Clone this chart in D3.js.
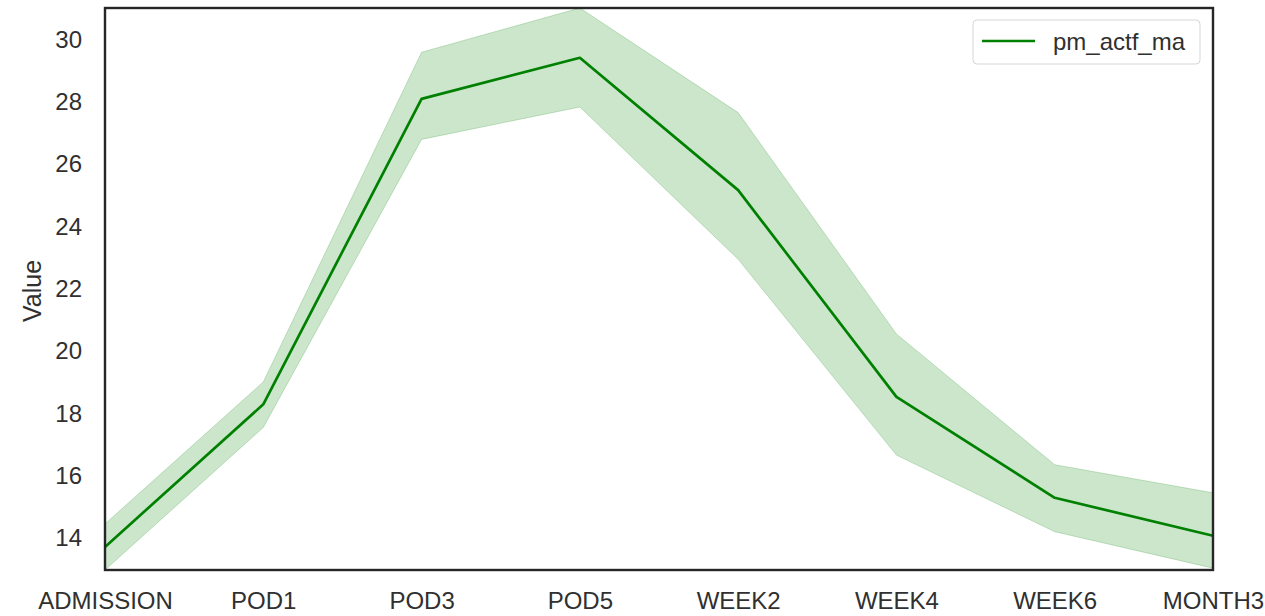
<!DOCTYPE html>
<html>
<head>
<meta charset="utf-8">
<script src="https://cdn.jsdelivr.net/npm/d3@7/dist/d3.min.js"></script>
<style>
  html, body { margin: 0; padding: 0; background: #ffffff; }
  svg { display: block; font-family: "Liberation Sans", Arial, sans-serif; }
</style>
</head>
<body>
<svg id="chart" width="1265" height="616"></svg>
<script>
// Time points along the recovery course
const categories = ["ADMISSION", "POD1", "POD3", "POD5", "WEEK2", "WEEK4", "WEEK6", "MONTH3"];
// Mean value of pm_actf_ma and its confidence band
const meanValues  = [13.71, 18.29, 28.10, 29.42, 25.17, 18.53, 15.29, 14.07];
const upperValues = [14.45, 19.01, 29.60, 31.02, 27.66, 20.55, 16.35, 15.45];
const lowerValues = [12.97, 17.55, 26.80, 27.84, 22.95, 16.66, 14.20, 13.03];
const yTicks = [14, 16, 18, 20, 22, 24, 26, 28, 30];
const seriesName = "pm_actf_ma";

const svg = d3.select("#chart");
const plot = { left: 105, top: 8, right: 1213, bottom: 570 };
const lineColor = "#008000";
const textColor = "#303030";

const x = d3.scalePoint().domain(categories).range([plot.left, plot.right]);
const y = d3.scaleLinear()
  .domain([d3.min(lowerValues), d3.max(upperValues)])
  .range([plot.bottom, plot.top]);

const rows = categories.map((c, i) => ({ c, mean: meanValues[i], lo: lowerValues[i], hi: upperValues[i] }));

// Confidence band
svg.append("path")
  .datum(rows)
  .attr("d", d3.area().x(d => x(d.c)).y0(d => y(d.lo)).y1(d => y(d.hi)))
  .attr("fill", lineColor)
  .attr("fill-opacity", 0.2)
  .attr("stroke", lineColor)
  .attr("stroke-opacity", 0.2)
  .attr("stroke-width", 1);

// Mean line
svg.append("path")
  .datum(rows)
  .attr("d", d3.line().x(d => x(d.c)).y(d => y(d.mean)))
  .attr("fill", "none")
  .attr("stroke", lineColor)
  .attr("stroke-width", 2.7)
  .attr("stroke-linejoin", "round");

// Axes (labels only, no tick marks)
const yAxis = svg.append("g")
  .attr("transform", `translate(${plot.left},0)`)
  .call(d3.axisLeft(y).tickValues(yTicks).tickFormat(d3.format("d")).tickSize(0).tickPadding(23));
yAxis.select(".domain").remove();
yAxis.selectAll("text").attr("font-size", 24).attr("fill", textColor)
  .attr("font-family", "'Liberation Sans', Arial, sans-serif");

const xAxis = svg.append("g")
  .attr("transform", `translate(0,${plot.bottom})`)
  .call(d3.axisBottom(x).tickSize(0).tickPadding(22));
xAxis.select(".domain").remove();
xAxis.selectAll("text").attr("font-size", 24).attr("fill", textColor)
  .attr("font-family", "'Liberation Sans', Arial, sans-serif");

// Y axis title
svg.append("text")
  .attr("transform", `translate(41,${(plot.top + plot.bottom) / 2 + 2}) rotate(-90)`)
  .attr("text-anchor", "middle")
  .attr("font-size", 25)
  .attr("fill", textColor)
  .text("Value");

// Frame around the plotting area
svg.append("rect")
  .attr("x", plot.left).attr("y", plot.top)
  .attr("width", plot.right - plot.left).attr("height", plot.bottom - plot.top)
  .attr("fill", "none")
  .attr("stroke", "#262626")
  .attr("stroke-width", 2.4);

// Legend
const legend = svg.append("g").attr("transform", "translate(973,20)");
legend.append("rect")
  .attr("width", 227).attr("height", 44).attr("rx", 4)
  .attr("fill", "#ffffff").attr("fill-opacity", 0.8)
  .attr("stroke", "#d6d6d6").attr("stroke-width", 1);
legend.append("line")
  .attr("x1", 9).attr("x2", 62).attr("y1", 21).attr("y2", 21)
  .attr("stroke", lineColor).attr("stroke-width", 2.7);
legend.append("text")
  .attr("x", 80).attr("y", 30)
  .attr("font-size", 24).attr("fill", textColor)
  .text(seriesName);
</script>
</body>
</html>
